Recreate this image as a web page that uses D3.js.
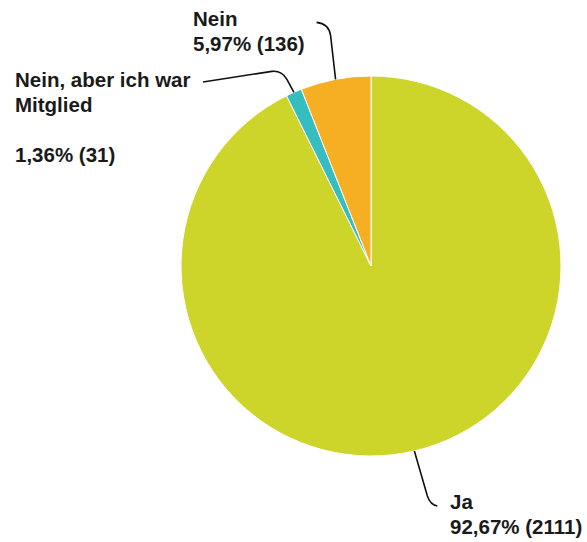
<!DOCTYPE html>
<html>
<head>
<meta charset="utf-8">
<script src="https://cdn.jsdelivr.net/npm/d3@7"></script>
<style>
  body { margin: 0; background: #fff; }
  text { font-family: "Liberation Sans", Arial, sans-serif; font-weight: bold; font-size: 20.5px; fill: #1a1a1a; }
</style>
</head>
<body>
<div id="chart"></div>
<script>
var width = 587, height = 542
var cx = 371, cy = 266
var radius = 190

// data
var categories = ["Ja", "Nein, aber ich war Mitglied", "Nein"]
var counts = [2111, 31, 136]
var percentLabels = ["92,67%", "1,36%", "5,97%"]
var colors = ["#cdd42a", "#36bdc0", "#f6ae22"]

// label text lines per slice
var labelLines = [
    ["Ja", "92,67% (2111)"],
    ["Nein, aber ich war", "Mitglied", "", "1,36% (31)"],
    ["Nein", "5,97% (136)"]
]
var labelPos = [[450, 509], [15, 87], [193, 26]]

var data = categories.map(function(c, i) {
    return { name: c, value: counts[i] }
})

var pie = d3.pie().value(function(d) { return d.value }).sort(null)
var arc = d3.arc().innerRadius(0).outerRadius(radius)

var svg = d3.select("#chart").append("svg")
    .attr("width", width)
    .attr("height", height)

var g = svg.append("g").attr("transform", "translate(" + cx + "," + cy + ")")

var arcs = pie(data)

g.selectAll("path.slice").data(arcs).enter()
    .append("path")
    .attr("class", "slice")
    .attr("d", arc)
    .attr("fill", function(d, i) { return colors[i] })
    .attr("stroke", "#fff")
    .attr("stroke-width", 1)

function edgePoint(d) {
    var a = (d.startAngle + d.endAngle) / 2
    return [cx + radius * Math.sin(a), cy - radius * Math.cos(a)]
}

// leader lines
function leader(d, i) {
    var p = edgePoint(d)
    var path = d3.path()
    path.moveTo(p[0], p[1])
    if (i == 0) {
        path.lineTo(p[0] + 13, p[1] + 45)
        path.quadraticCurveTo(p[0] + 16, p[1] + 54, p[0] + 23, p[1] + 55)
    } else if (i == 1) {
        path.lineTo(p[0] - 7, p[1] - 13)
        path.quadraticCurveTo(p[0] - 12, p[1] - 22, p[0] - 22, p[1] - 21)
        path.lineTo(203, 82)
    } else {
        path.lineTo(p[0] - 5, p[1] - 44)
        path.quadraticCurveTo(p[0] - 7, p[1] - 56, p[0] - 19, p[1] - 57)
    }
    return path.toString()
}

svg.selectAll("path.leader").data(arcs).enter()
    .append("path")
    .attr("class", "leader")
    .attr("d", leader)
    .attr("fill", "none")
    .attr("stroke", "#111")
    .attr("stroke-width", 1.6)

// labels
labelLines.forEach(function(lines, i) {
    var t = svg.append("text")
        .attr("x", labelPos[i][0])
        .attr("y", labelPos[i][1])
    lines.forEach(function(line, j) {
        t.append("tspan")
            .attr("x", labelPos[i][0])
            .attr("y", labelPos[i][1] + j * 25)
            .text(line)
    })
})
</script>
</body>
</html>
